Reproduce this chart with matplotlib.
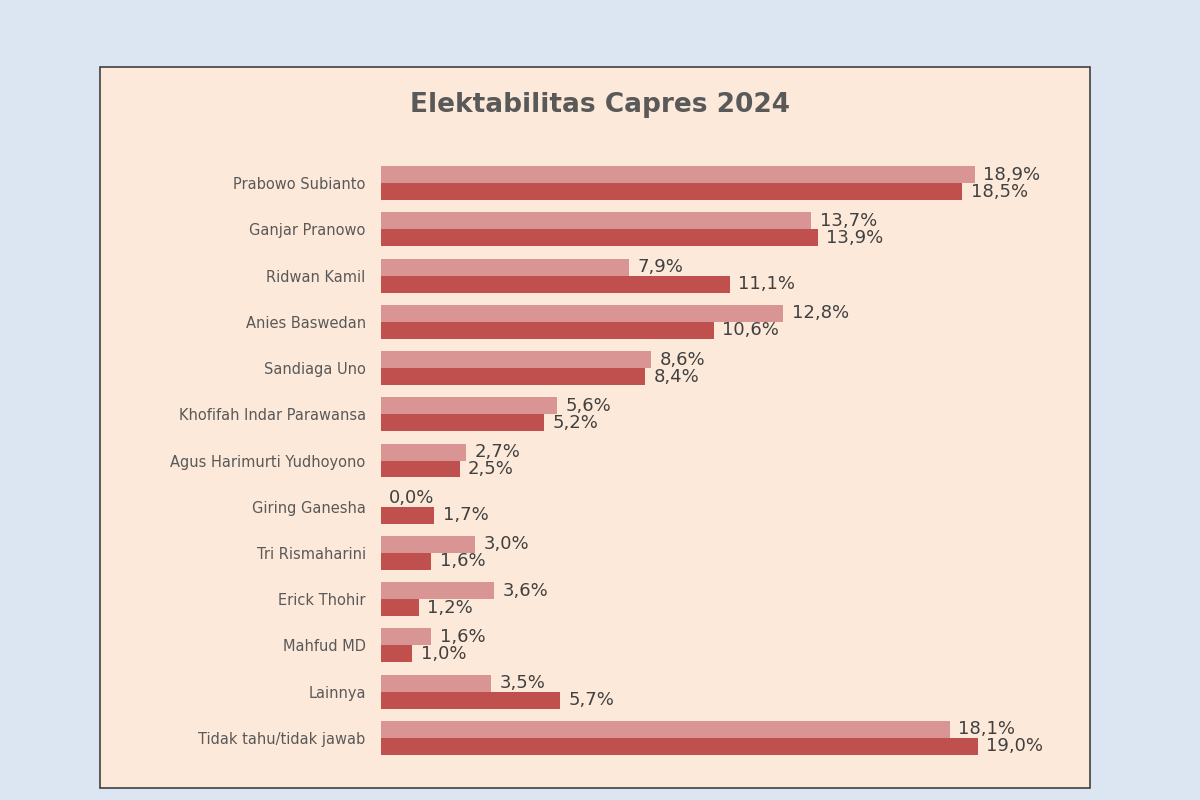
import matplotlib.pyplot as plt
from matplotlib.patches import Rectangle
import numpy as np

# ---- data ----
names = ['Prabowo Subianto', 'Ganjar Pranowo', 'Ridwan Kamil', 'Anies Baswedan',
         'Sandiaga Uno', 'Khofifah Indar Parawansa', 'Agus Harimurti Yudhoyono',
         'Giring Ganesha', 'Tri Rismaharini', 'Erick Thohir', 'Mahfud MD',
         'Lainnya', 'Tidak tahu/tidak jawab']
survey_a = [18.9, 13.7, 7.9, 12.8, 8.6, 5.6, 2.7, 0.0, 3.0, 3.6, 1.6, 3.5, 18.1]
survey_b = [18.5, 13.9, 11.1, 10.6, 8.4, 5.2, 2.5, 1.7, 1.6, 1.2, 1.0, 5.7, 19.0]

light = '#d99594'
dark = '#c0504d'

fig = plt.figure(figsize=(12, 8), dpi=100)
fig.patch.set_facecolor('#dce6f2')

# panel behind the chart
panel = Rectangle((100/1200, 12/800), 990/1200, 721/800, transform=fig.transFigure,
                  facecolor='#fde9d9', edgecolor='#404040', linewidth=1.2, zorder=-5)
fig.patches.append(panel)

ax = fig.add_axes([381/1200, 39/800, 630/1200, 601/800])
ax.set_facecolor('none')
ax.set_zorder(2)

y = np.arange(len(names))
h = 0.367
ax.barh(y - h/2, survey_a, height=h, color=light)
ax.barh(y + h/2, survey_b, height=h, color=dark)

def fmt(v):
    return f'{v:.1f}%'.replace('.', ',')

for i in range(len(names)):
    ax.annotate(fmt(survey_a[i]), (survey_a[i], y[i] - h/2), xytext=(6, 0),
                textcoords='offset points', va='center', ha='left',
                fontsize=13, color='#404040', annotation_clip=False)
    ax.annotate(fmt(survey_b[i]), (survey_b[i], y[i] + h/2), xytext=(6, 0),
                textcoords='offset points', va='center', ha='left',
                fontsize=13, color='#404040', annotation_clip=False)

ax.set_xlim(0, 20.05)
ax.set_ylim(len(names) - 0.5, -0.5)
ax.set_yticks(y)
ax.set_yticklabels(names, fontsize=10.5, color='#595959')
ax.tick_params(axis='y', length=0, pad=11)
ax.set_xticks([])
for s in ax.spines.values():
    s.set_visible(False)

fig.text(600/1200, 1 - 105/800, 'Elektabilitas Capres 2024', ha='center', va='center',
         fontsize=19, fontweight='bold', color='#595959')

fig.savefig('out.png', dpi=100, facecolor=fig.get_facecolor())
